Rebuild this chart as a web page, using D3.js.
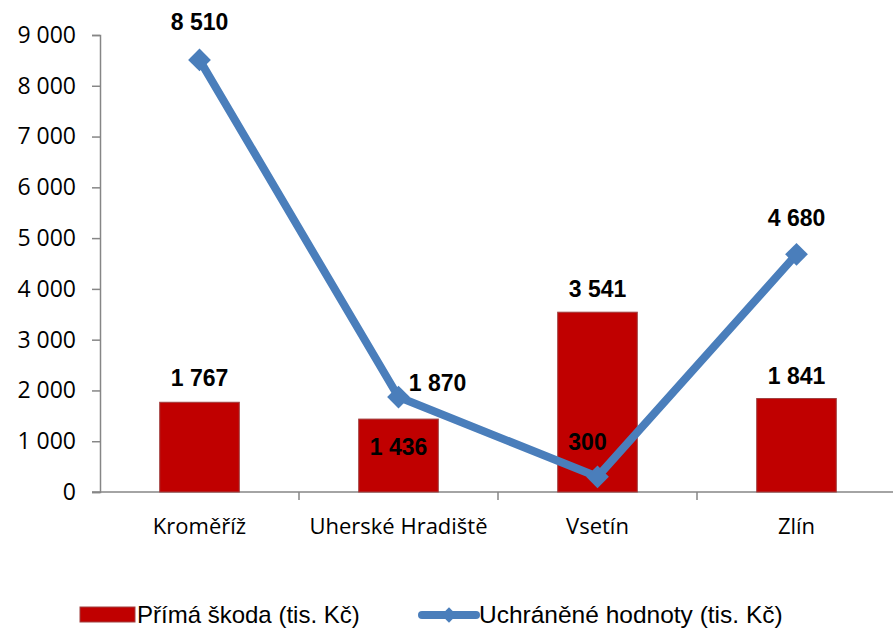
<!DOCTYPE html>
<html>
<head>
<meta charset="utf-8">
<script src="https://cdn.jsdelivr.net/npm/d3@7"></script>
<style>
  body { margin: 0; background: #fff; }
  svg { display: block; }
</style>
</head>
<body>
<div id="chart"></div>
<script>
// chart data
const categories = ["Kroměříž", "Uherské Hradiště", "Vsetín", "Zlín"];
const primaSkoda = [1767, 1436, 3541, 1841];
const uchraneneHodnoty = [8510, 1870, 300, 4680];
const yTicks = [0, 1000, 2000, 3000, 4000, 5000, 6000, 7000, 8000, 9000];
const seriesNames = ["Přímá škoda (tis. Kč)", "Uchráněné hodnoty (tis. Kč)"];

const width = 893, height = 628;
const barColor = "#c00000", lineColor = "#4a7ebb", axisColor = "#868686";

const svg = d3.select("#chart").append("svg")
    .attr("width", width)
    .attr("height", height);

const x = d3.scaleBand().domain(categories).range([100, 896]);
const y = d3.scaleLinear().domain([0, 9000]).range([492, 35]);
const barW = x.bandwidth() * 0.4;
const cx = c => x(c) + x.bandwidth() / 2;

const fmt = v => d3.format(",")(v).replace(/,/g, " ");

// y axis
const yAxis = svg.append("g")
    .attr("transform", "translate(100,0)")
    .call(d3.axisLeft(y).tickValues(yTicks).tickSize(8).tickPadding(16).tickFormat(fmt));
yAxis.select(".domain").attr("stroke", axisColor).attr("stroke-width", 1.5);
yAxis.selectAll(".tick line").attr("stroke", axisColor).attr("stroke-width", 1.5);
yAxis.selectAll(".tick text")
    .attr("fill", "#000")
    .style("font-family", "'Open Sans', sans-serif")
    .style("font-size", "23px");

// x axis line and tick marks between categories
svg.append("line")
    .attr("x1", 92).attr("x2", width).attr("y1", y(0)).attr("y2", y(0))
    .attr("stroke", axisColor).attr("stroke-width", 1.5);
svg.selectAll(".xtick")
    .data(categories.slice(1))
    .enter().append("line")
    .attr("x1", d => x(d)).attr("x2", d => x(d))
    .attr("y1", y(0)).attr("y2", y(0) + 8)
    .attr("stroke", axisColor).attr("stroke-width", 1.5);
svg.selectAll(".xlabel")
    .data(categories)
    .enter().append("text")
    .attr("x", d => cx(d))
    .attr("y", 534)
    .attr("text-anchor", "middle")
    .style("font-family", "'Open Sans', sans-serif")
    .style("font-size", "22px")
    .text(d => d);

// bars
svg.selectAll(".bar")
    .data(primaSkoda)
    .enter().append("rect")
    .attr("x", (d, i) => cx(categories[i]) - barW / 2)
    .attr("y", d => y(d))
    .attr("width", barW)
    .attr("height", d => y(0) - y(d))
    .attr("fill", barColor)
    .attr("stroke", "#a04040")
    .attr("stroke-width", 1);

// line
const line = d3.line()
    .x((d, i) => cx(categories[i]))
    .y(d => y(d));
svg.append("path")
    .datum(uchraneneHodnoty)
    .attr("d", line)
    .attr("fill", "none")
    .attr("stroke", lineColor)
    .attr("stroke-width", 8)
    .attr("stroke-linejoin", "round");
svg.selectAll(".marker")
    .data(uchraneneHodnoty)
    .enter().append("path")
    .attr("d", d3.symbol().type(d3.symbolDiamond2).size(330))
    .attr("transform", (d, i) => `translate(${cx(categories[i])},${y(d)})`)
    .attr("fill", lineColor);

// data labels (label placement offsets as in reference)
const labelStyle = sel => sel
    .attr("text-anchor", "middle")
    .attr("dominant-baseline", "central")
    .style("font-family", "'Liberation Sans', Arial, sans-serif")
    .style("font-weight", "bold")
    .style("font-size", "23px");

const barOff = [[0, -24], [0, 28], [0, -23], [0, -23]];
svg.selectAll(".barlabel")
    .data(primaSkoda)
    .enter().append("text")
    .attr("x", (d, i) => cx(categories[i]) + barOff[i][0])
    .attr("y", (d, i) => y(d) + barOff[i][1])
    .call(labelStyle)
    .text(fmt);

const lineOff = [[0, -38], [39, -14], [-10, -35], [0, -36]];
svg.selectAll(".linelabel")
    .data(uchraneneHodnoty)
    .enter().append("text")
    .attr("x", (d, i) => cx(categories[i]) + lineOff[i][0])
    .attr("y", (d, i) => y(d) + lineOff[i][1])
    .call(labelStyle)
    .text(fmt);

// legend
const legend = svg.append("g");
legend.append("rect")
    .attr("x", 80).attr("y", 607).attr("width", 55).attr("height", 15)
    .attr("fill", barColor).attr("stroke", "#a04040");
legend.append("text")
    .attr("x", 137).attr("y", 623)
    .style("font-family", "'Liberation Sans', Arial, sans-serif")
    .style("font-size", "24px")
    .text(seriesNames[0]);
legend.append("line")
    .attr("x1", 422).attr("x2", 476).attr("y1", 615).attr("y2", 615)
    .attr("stroke", lineColor).attr("stroke-width", 8).attr("stroke-linecap", "round");
legend.append("path")
    .attr("d", d3.symbol().type(d3.symbolDiamond2).size(150))
    .attr("transform", "translate(449,615)")
    .attr("fill", lineColor);
legend.append("text")
    .attr("x", 479).attr("y", 623)
    .style("font-family", "'Liberation Sans', Arial, sans-serif")
    .style("font-size", "24.5px")
    .text(seriesNames[1]);
</script>
</body>
</html>
